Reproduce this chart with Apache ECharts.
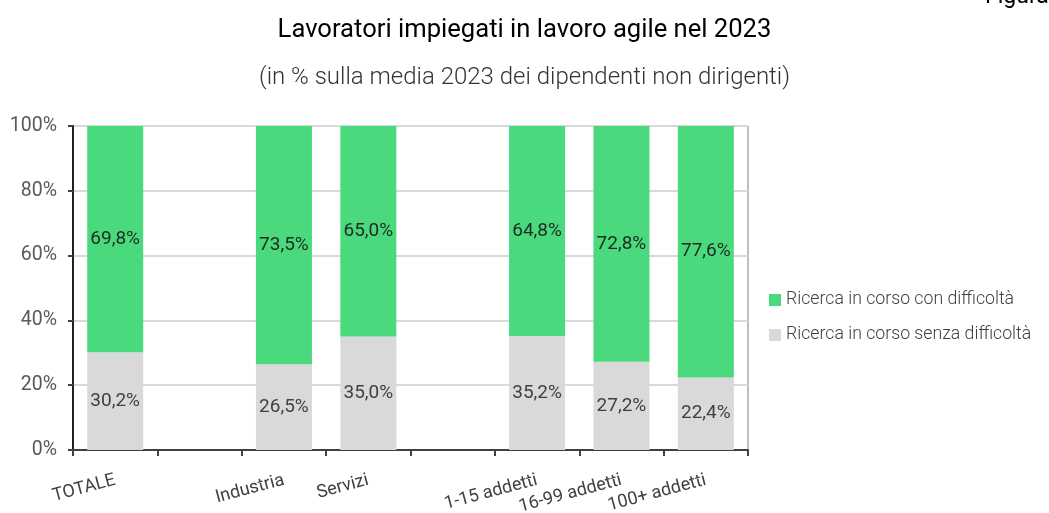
<!DOCTYPE html>
<html>
<head>
<meta charset="utf-8">
<script src="https://cdn.jsdelivr.net/npm/echarts@6/dist/echarts.min.js"></script>
<style>
  html, body { margin: 0; padding: 0; background: #fff; }
  #chart { width: 1049px; height: 513px; }
</style>
</head>
<body>
<div id="chart"></div>
<script>
// categorie (le vuote fanno da separatore)
const categories = ['TOTALE', '', 'Industria', 'Servizi', '', '1-15 addetti', '16-99 addetti', '100+ addetti'];
// ricerca senza difficoltà (grigio, in basso)
const senzaDifficolta = [30.2, null, 26.5, 35.0, null, 35.2, 27.2, 22.4];
// ricerca con difficoltà (verde, in alto)
const conDifficolta = [69.8, null, 73.5, 65.0, null, 64.8, 72.8, 77.6];
const yTicks = [0, 20, 40, 60, 80, 100];

const fmt = v => v.toFixed(1).replace('.', ',') + '%';

let chart = echarts.init(document.getElementById('chart'));
chart.setOption({
  animation: false,
  textStyle: { fontFamily: 'Roboto' },
  title: [{
    text: 'Lavoratori impiegati in lavoro agile nel 2023',
    left: 'center',
    top: 13,
    textStyle: { fontSize: 25.6, fontWeight: 'normal', color: '#000', fontFamily: 'Roboto' }
  }, {
    text: '(in % sulla media 2023 dei dipendenti non dirigenti)',
    left: 'center',
    top: 61,
    textStyle: { fontSize: 24, fontWeight: 300, color: '#333', fontFamily: 'Roboto' }
  }],
  graphic: [{
    type: 'text',
    left: 985,
    top: -14,
    style: { text: 'Figura', fontSize: 23, fill: '#000', fontFamily: 'Roboto' }
  }],
  legend: {
    orient: 'vertical',
    left: 764,
    top: 286,
    itemWidth: 12,
    itemHeight: 12,
    itemGap: 17,
    icon: 'rect',
    textStyle: { fontSize: 17.7, color: '#404040', fontWeight: 300 },
    data: ['Ricerca in corso con difficoltà', 'Ricerca in corso senza difficoltà']
  },
  grid: {
    left: 73, right: 301, top: 126, bottom: 63,
    outerBoundsMode: 'none',
    containLabel: false,
    show: true, borderColor: '#808080', borderWidth: 1
  },
  xAxis: {
    type: 'category',
    data: categories,
    axisLine: { lineStyle: { color: '#404040', width: 2 } },
    axisTick: { show: true, length: 6, lineStyle: { color: '#404040', width: 2 } },
    axisLabel: { interval: 0, rotate: 15, fontSize: 18, color: '#404040', margin: 30 }
  },
  yAxis: {
    type: 'value',
    min: 0,
    max: 100,
    interval: 20,
    axisLine: { show: true, lineStyle: { color: '#202020', width: 2 } },
    axisTick: { show: true, length: 5, lineStyle: { color: '#404040', width: 2 } },
    splitLine: { lineStyle: { color: '#d9d9d9', width: 2 } },
    axisLabel: {
      fontSize: 19.5, color: '#595959', margin: 16,
      formatter: v => yTicks.includes(v) ? v + '%' : ''
    }
  },
  series: [{
    name: 'Ricerca in corso senza difficoltà',
    type: 'bar',
    stack: 'tot',
    barWidth: 56,
    itemStyle: { color: '#d9d9d9' },
    label: {
      show: true, position: 'inside', fontSize: 19, color: '#404040',
      formatter: p => fmt(p.value)
    },
    data: senzaDifficolta
  }, {
    name: 'Ricerca in corso con difficoltà',
    type: 'bar',
    stack: 'tot',
    barWidth: 56,
    itemStyle: { color: '#4ad97d' },
    label: {
      show: true, position: 'inside', fontSize: 19, color: '#1f2a22',
      formatter: p => fmt(p.value)
    },
    data: conDifficolta
  }]
});
</script>
</body>
</html>
